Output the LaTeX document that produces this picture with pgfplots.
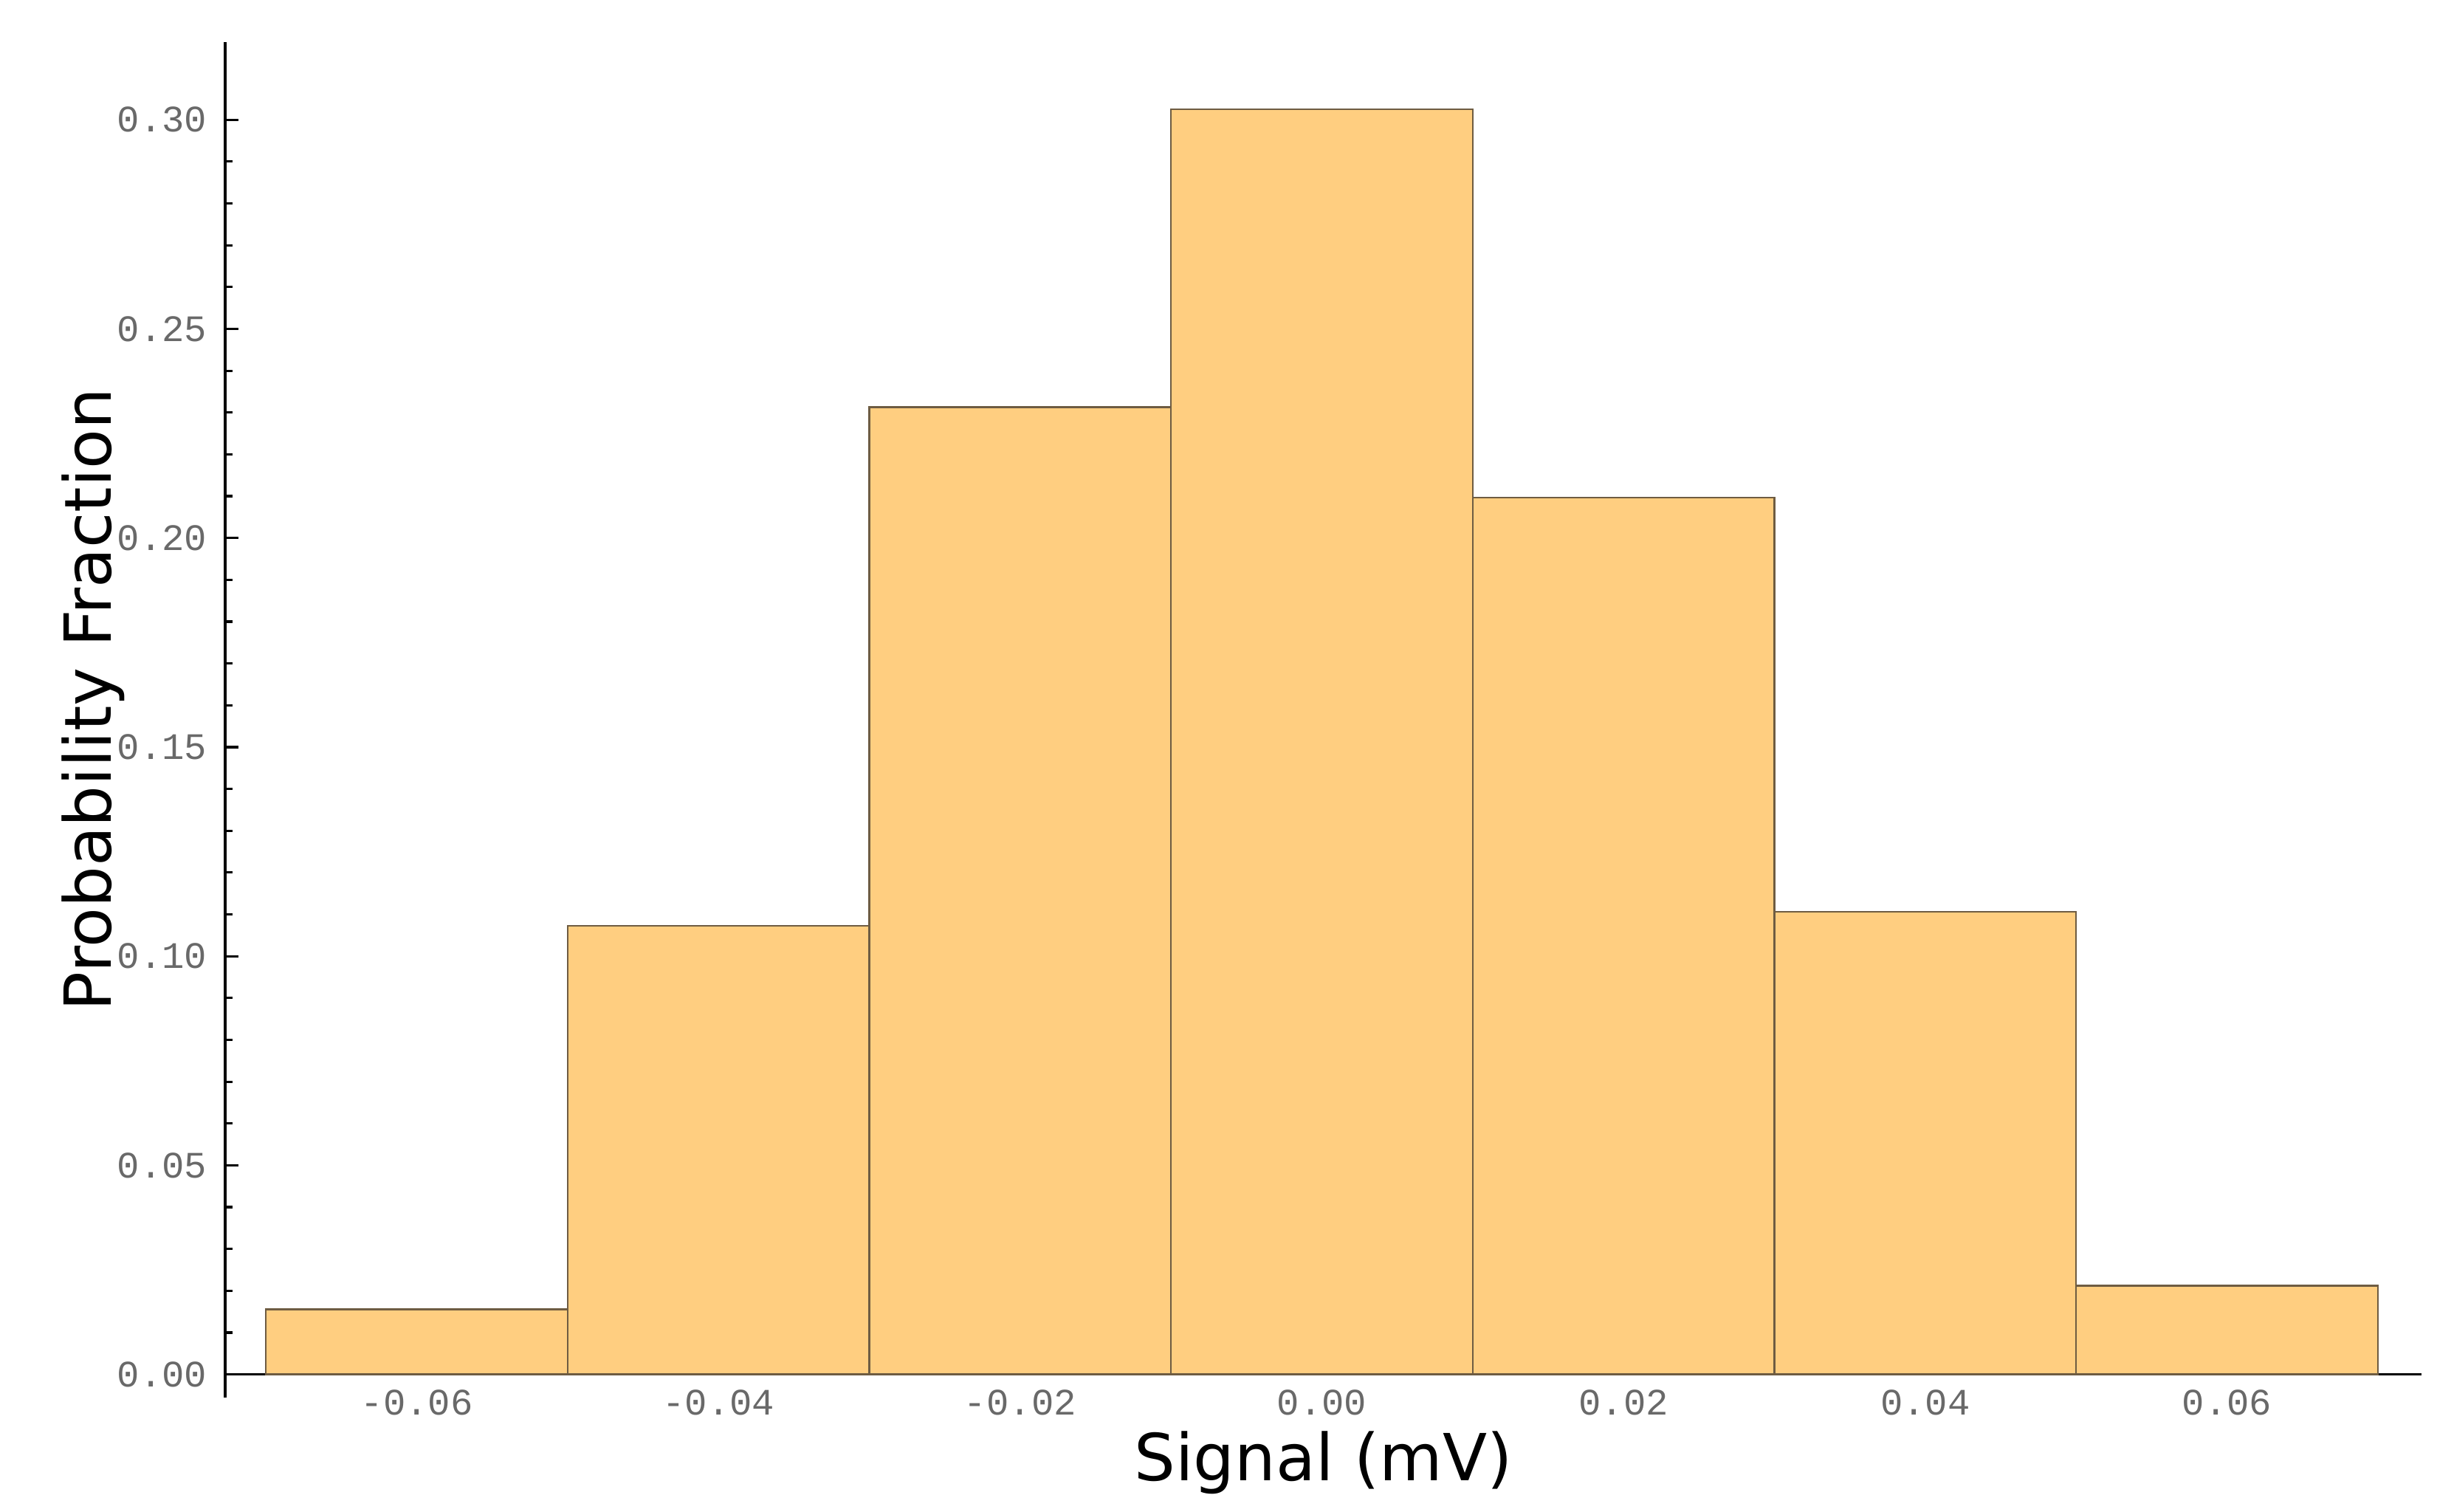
\documentclass[border=0pt]{standalone}
\usepackage{fontspec}
\setmainfont{DejaVu Sans}
\newfontfamily\tickfont{Liberation Mono}
\usepackage{pgfplots}
\pgfplotsset{compat=1.18}

\definecolor{barFill}{RGB}{255,206,128}
\definecolor{barEdge}{RGB}{110,92,66}
\definecolor{tickGray}{RGB}{105,105,105}

\begin{document}
\begin{tikzpicture}
\begin{axis}[
    scale only axis,
    width=14.87cm,
    height=9.18cm,
    xmin=-0.0727, xmax=0.0729,
    ymin=-0.0056, ymax=0.3186,
    axis x line*=middle,
    axis y line*=left,
    axis line style={black, line width=0.5pt},
    tick align=inside,
    major tick length=0.09cm,
    minor tick length=0.05cm,
    tick style={black, line width=0.45pt},
    scaled x ticks=false,
    scaled y ticks=false,
    xtick={-0.06,-0.04,-0.02,0,0.02,0.04,0.06},
    xticklabels={-0.06,-0.04,-0.02,0.00,0.02,0.04,0.06},
    minor x tick num=3,
    ytick={0,0.05,0.10,0.15,0.20,0.25,0.30},
    yticklabels={0.00,0.05,0.10,0.15,0.20,0.25,0.30},
    minor y tick num=4,
    tick label style={font=\tickfont\fontsize{7.2}{8}\selectfont, text=tickGray},
    xticklabel style={yshift=0.02cm},
    xlabel={Signal (mV)},
    ylabel={Probability Fraction},
    label style={font=\fontsize{12.5}{14}\selectfont},
    xlabel style={at={(axis description cs:0.5,-0.061)}, anchor=base},
    ylabel style={at={(axis description cs:-0.0602,0.515)}, anchor=center, rotate=0},
    clip=false,
]
\addplot[ybar interval, fill=barFill, draw=barEdge, line width=0.35pt]
coordinates {
    (-0.07,0.0156)
    (-0.05,0.1073)
    (-0.03,0.2313)
    (-0.01,0.3025)
    (0.01,0.2097)
    (0.03,0.1106)
    (0.05,0.0212)
    (0.07,0.0212)
};
\end{axis}
\path ([xshift=-1.525cm,yshift=-0.76cm]current axis.south west)
    rectangle ([xshift=0.105cm,yshift=0.284cm]current axis.north east);
\end{tikzpicture}
\end{document}
